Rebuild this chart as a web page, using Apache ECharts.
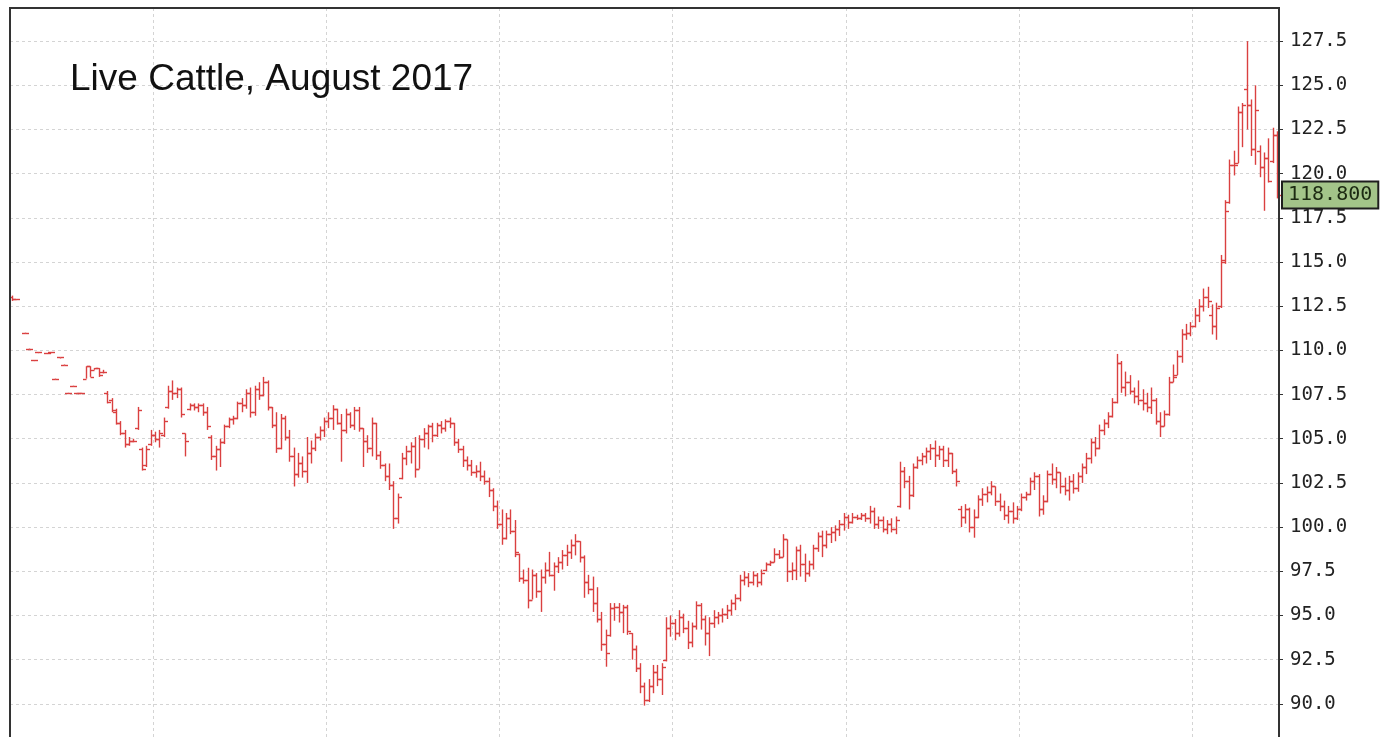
<!DOCTYPE html>
<html>
<head>
<meta charset="utf-8">
<script src="https://cdn.jsdelivr.net/npm/echarts@6/dist/echarts.min.js"></script>
<style>
html,body{margin:0;padding:0;background:#fff;}
#chart{width:1383px;height:737px;}
</style>
</head>
<body>
<div id="chart"></div>
<script>
const titleText = 'Live Cattle, August 2017';
const lastPrice = 118.8;
const lastPriceLabel = '118.800';
const yMin = 87.5, yMax = 129.375, yStep = 2.5;
// category indices where vertical grid lines fall
const xGridIndices = [33, 73, 113, 153, 193, 233, 273];
// [open, high, low, close] per trading day; null = no trade
const ohlc = [
[113.0,113.1,112.8,112.9],[112.9,112.9,112.9,112.9],null,[111.0,111.0,111.0,111.0],
[110.1,110.1,110.1,110.1],[109.45,109.45,109.45,109.45],[109.9,109.9,109.9,109.9],null,
[109.85,109.85,109.85,109.85],[109.9,109.9,109.9,109.9],[108.4,108.4,108.4,108.4],[109.6,109.6,109.6,109.6],
[109.2,109.2,109.2,109.2],[107.6,107.6,107.6,107.6],[108.0,108.0,108.0,108.0],[107.6,107.6,107.6,107.6],
[107.6,107.6,107.6,107.6],[108.4,109.1,108.4,109.1],[109.1,109.1,108.5,108.5],[108.9,109.0,108.9,109.0],
[109.0,109.0,108.5,108.6],[108.8,108.9,108.7,108.8],
[107.6,107.7,107.0,107.1],[107.2,107.3,106.5,106.6],[106.5,106.7,105.8,105.9],[105.9,106.0,105.2,105.3],
[105.3,105.5,104.5,104.7],[104.7,105.1,104.6,104.9],[104.9,105.0,104.8,104.9],[105.6,106.8,105.5,106.6],
[104.4,104.5,103.2,103.3],[103.5,104.6,103.4,104.4],[104.7,105.5,104.6,105.2],[105.2,105.4,104.8,105.0],
[105.0,105.5,104.5,105.3],[105.2,106.2,105.1,106.0],[106.8,108.0,106.7,107.7],[107.7,108.3,107.2,107.6],
[107.6,107.9,107.3,107.8],[107.8,107.9,106.2,106.4],[105.3,105.3,104.0,104.9],[106.7,107.0,106.6,106.9],
[106.9,107.0,106.6,106.8],[106.8,107.0,106.5,106.9],[106.9,107.0,106.3,106.5],[106.5,106.8,105.5,105.7],
[105.1,105.2,103.8,104.0],[104.0,104.6,103.2,104.4],[104.4,105.0,103.4,104.8],[104.8,105.8,104.7,105.7],
[105.7,106.2,105.6,106.1],[106.1,106.3,105.8,106.2],[106.2,107.1,106.1,107.0],[107.0,107.3,106.5,106.9],
[106.9,107.8,106.7,107.6],[107.6,107.9,106.2,106.5],[106.5,108.0,106.3,107.8],[107.8,108.2,107.2,107.5],
[107.5,108.5,107.4,108.2],[108.2,108.3,106.6,106.8],[106.8,106.8,105.6,105.8],[105.8,106.5,104.2,104.5],
[104.5,106.4,104.4,106.2],[106.2,106.3,104.9,105.1],[105.1,105.5,103.7,104.0],[104.0,104.5,102.3,103.0],
[103.0,104.2,102.8,103.6],[103.6,104.0,102.8,103.2],[103.2,105.1,102.5,104.2],[104.2,104.9,103.6,104.5],
[104.5,105.3,104.3,105.1],[105.1,105.7,104.9,105.5],[105.5,106.2,105.1,106.0],[106.0,106.5,105.6,106.2],
[106.2,106.9,105.5,106.7],[106.7,106.7,105.8,105.9],[105.9,106.4,103.7,105.5],[105.5,106.7,105.3,106.4],
[106.4,106.5,105.6,105.8],[105.8,106.8,105.5,106.6],[106.6,106.8,105.4,105.6],[105.6,105.6,103.4,104.9],
[104.9,105.2,104.2,104.5],[104.5,106.2,104.0,105.9],[105.9,105.9,103.8,104.1],[104.1,104.3,103.3,103.5],
[103.5,103.6,102.6,102.9],[102.9,103.6,102.1,102.4],[102.4,102.6,99.9,100.5],[100.5,101.9,100.2,101.7],
[102.8,104.2,102.7,103.9],[103.9,104.6,103.5,104.3],[104.3,104.8,103.6,104.6],[104.6,105.1,102.8,103.3],
[103.3,105.2,103.3,105.0],[105.0,105.6,104.5,105.3],[105.3,105.8,104.4,105.7],[105.7,105.9,104.8,105.2],
[105.2,105.9,105.1,105.8],[105.8,106.0,105.3,105.6],[105.6,106.1,105.4,106.0],[106.0,106.2,105.6,105.9],
[105.9,105.9,104.6,104.8],[104.8,105.0,104.2,104.4],[104.4,104.6,103.4,103.8],[103.8,104.0,103.2,103.5],
[103.5,103.8,102.9,103.1],[103.1,103.5,102.8,103.2],[103.2,103.7,102.6,102.9],[102.9,103.2,102.4,102.6],
[102.6,102.8,101.7,102.1],[102.1,102.2,100.9,101.2],[101.2,101.5,99.9,100.2],[100.2,101.0,99.0,99.4],
[99.4,100.8,99.3,100.5],[100.5,101.0,99.6,99.8],[99.8,100.4,98.3,98.6],[98.5,98.5,96.9,97.1],
[97.1,97.6,96.8,97.0],[97.0,97.7,95.4,95.9],[95.9,97.6,95.9,97.3],[97.3,97.4,96.0,96.4],
[96.4,97.6,95.2,97.2],[97.2,98.0,96.8,97.6],[97.6,98.6,97.2,97.3],[97.3,98.0,96.4,97.8],
[97.8,98.3,97.4,98.0],[98.0,98.7,97.6,98.4],[98.4,99.0,97.8,98.6],[98.6,99.3,98.2,99.0],
[99.0,99.6,98.4,99.2],[99.2,99.2,98.0,98.3],[98.3,98.4,96.0,96.9],[96.9,97.3,96.2,96.5],
[96.5,97.2,95.2,95.7],[95.7,96.6,94.6,94.8],[94.8,95.2,93.0,93.4],[93.4,94.2,92.1,92.9],
[93.9,95.7,93.8,95.4],[95.4,95.7,94.7,95.5],[95.5,95.7,94.6,95.2],[95.2,95.6,94.0,95.5],
[95.5,95.6,93.9,94.1],[94.0,94.0,92.5,93.1],[93.1,93.3,91.8,92.0],[92.0,92.3,90.6,91.0],
[91.0,91.2,89.9,90.2],[90.2,91.4,90.1,91.0],[91.0,92.2,90.6,91.8],[91.8,92.2,91.0,91.4],
[91.4,92.3,90.5,92.1],[92.5,94.9,92.4,94.3],[94.3,95.0,93.8,94.6],[94.6,94.8,93.6,94.0],
[94.0,95.3,93.8,94.9],[94.9,95.1,94.0,94.3],[94.3,94.7,93.1,93.5],[93.5,94.6,93.2,94.4],
[94.4,95.8,94.2,95.6],[95.6,95.7,94.2,94.8],[94.8,95.0,93.3,94.0],[94.0,94.9,92.7,94.6],
[94.6,95.3,94.3,94.9],[94.9,95.2,94.5,95.0],[95.0,95.4,94.6,95.1],[95.1,95.6,94.8,95.3],
[95.3,95.9,95.0,95.7],[95.7,96.2,95.3,96.0],[96.0,97.3,95.8,97.0],[97.0,97.5,96.7,97.2],
[97.2,97.4,96.6,96.9],[96.9,97.5,96.7,97.3],[97.3,97.4,96.6,96.9],[96.9,97.6,96.7,97.4],
[97.6,98.0,97.5,97.9],[97.9,98.1,97.8,98.0],[98.0,98.8,98.0,98.5],[98.5,98.7,98.2,98.3],
[98.3,99.6,98.3,99.3],[99.3,99.3,96.9,97.5],[97.5,98.0,97.0,97.6],[97.6,98.9,97.0,98.7],
[98.7,99.0,97.2,97.9],[97.9,98.5,96.9,97.4],[97.4,98.1,97.2,97.9],[97.9,99.0,97.6,98.8],
[98.8,99.7,98.6,99.5],[99.5,99.8,98.3,99.0],[99.0,99.8,98.8,99.6],[99.6,100.0,99.1,99.7],
[99.7,100.1,99.2,99.9],[99.9,100.4,99.5,100.2],[100.2,100.8,99.8,100.6],[100.6,100.7,99.9,100.3],
[100.3,100.8,100.2,100.6],[100.6,100.7,100.4,100.5],[100.5,100.8,100.4,100.7],[100.7,100.8,100.3,100.5],
[100.5,101.2,100.2,100.9],[100.9,101.1,99.9,100.2],[100.2,100.6,99.9,100.4],[100.4,100.6,99.7,99.9],
[99.9,100.4,99.6,100.2],[100.2,100.5,99.7,99.9],[99.9,100.6,99.6,100.4],[101.2,103.7,101.1,103.2],
[103.2,103.4,102.2,102.6],[102.6,102.9,101.0,101.8],[101.8,103.6,101.7,103.4],[103.4,104.0,103.3,103.8],
[103.8,104.2,103.5,104.0],[104.0,104.5,103.6,104.3],[104.3,104.7,103.8,104.5],[104.5,104.9,103.4,104.1],
[104.1,104.6,103.8,104.4],[104.4,104.6,103.4,103.8],[103.8,104.5,103.4,104.2],[104.2,104.2,103.0,103.2],
[103.2,103.3,102.3,102.6],[101.0,101.2,100.0,100.6],[100.6,101.3,100.2,101.0],[101.0,101.1,99.7,100.0],
[100.0,101.0,99.4,100.6],[100.6,101.8,100.5,101.6],[101.6,102.2,101.2,101.9],[101.9,102.3,101.4,102.0],
[102.0,102.6,101.8,102.3],[102.3,102.3,101.2,101.5],[101.5,101.9,100.9,101.2],[101.2,101.5,100.4,100.7],
[100.7,101.2,100.2,100.9],[100.9,101.4,100.2,100.5],[100.5,101.2,100.4,101.0],[101.0,101.9,100.9,101.7],
[101.7,102.0,101.5,101.9],[101.9,102.8,101.8,102.6],[102.6,103.1,102.1,102.9],[102.9,103.0,100.6,101.0],
[101.0,101.8,100.7,101.5],[101.5,103.2,101.4,103.0],[103.0,103.6,102.4,102.7],[102.7,103.4,102.2,103.1],
[103.1,103.1,101.9,102.3],[102.3,102.8,101.8,102.1],[102.1,102.9,101.5,102.6],[102.6,103.0,101.9,102.2],
[102.2,103.1,102.0,102.9],[102.9,103.6,102.5,103.4],[103.4,104.2,103.0,103.9],[103.9,105.0,103.6,104.8],
[104.8,105.1,104.0,104.5],[104.5,105.8,104.4,105.5],[105.5,106.1,105.2,105.9],[105.9,106.5,105.6,106.3],
[106.3,107.3,106.2,107.1],[107.1,109.8,107.0,109.3],[109.3,109.4,107.6,107.9],[107.9,108.8,107.4,108.2],
[108.2,108.6,107.5,107.7],[107.7,107.9,107.0,107.4],[107.4,108.3,106.9,107.2],[107.2,107.8,106.6,107.0],
[107.0,107.6,106.5,106.8],[106.8,107.9,106.4,107.2],[107.2,107.3,105.8,106.0],[106.0,106.5,105.1,105.7],
[105.7,106.6,105.7,106.4],[106.4,108.5,106.3,108.2],[108.2,109.2,108.2,108.5],[108.6,110.0,108.6,109.7],
[109.7,111.2,109.3,110.9],[110.9,111.5,110.6,111.0],[111.0,111.6,110.8,111.4],[111.4,112.4,111.3,112.0],
[112.0,112.9,111.6,112.5],[112.5,113.5,112.2,113.0],[113.0,113.6,112.4,112.8],[112.0,112.6,110.9,111.4],
[111.4,112.7,110.6,112.4],[112.5,115.4,112.4,115.1],[115.0,118.5,114.9,117.9],[118.4,120.8,118.3,120.5],
[120.5,121.3,119.9,120.5],[120.6,123.8,120.6,123.5],[123.5,124.0,121.5,123.9],[124.8,127.5,122.5,123.9],
[123.9,124.2,121.0,121.4],[121.4,125.0,120.5,123.6],[121.3,121.6,119.8,120.4],[120.4,121.2,117.9,120.9],
[120.9,122.0,119.5,119.6],[120.7,122.6,120.6,122.2],[122.2,122.4,118.6,118.8]
];
const categories = ohlc.map((d, i) => 'Day ' + (i + 1));

const barColor = '#da4040';
const seriesData = ohlc.map((d, i) => d ? [i, d[0], d[1], d[2], d[3]] : [i, '-', '-', '-', '-']);

const chart = echarts.init(document.getElementById('chart'), null, {renderer: 'canvas'});
chart.setOption({
  animation: false,
  backgroundColor: '#ffffff',
  title: {
    text: titleText, left: 70, top: 61, padding: 0,
    textStyle: {fontFamily: 'Liberation Sans', fontSize: 37, fontWeight: 'normal', color: '#111'}
  },
  grid: {
    left: 10, right: 104, top: 8, bottom: -11,
    show: true, borderColor: '#333', borderWidth: 2, backgroundColor: 'transparent',
    containLabel: false, outerBoundsMode: 'none', z: 5
  },
  xAxis: {
    type: 'category', data: categories, boundaryGap: true,
    axisLine: {show: false}, axisTick: {show: false}, axisLabel: {show: false},
    splitLine: {
      show: true,
      interval: function (idx) { return xGridIndices.indexOf(idx) >= 0; },
      lineStyle: {color: '#d4d4d4', type: [3, 3], width: 1}
    }
  },
  yAxis: {
    type: 'value', position: 'right', min: yMin, max: yMax, interval: yStep, scale: true,
    axisLine: {show: true, lineStyle: {color: '#333', width: 2}},
    axisTick: {show: true, length: 4, lineStyle: {color: '#333', width: 1}},
    axisLabel: {
      show: true, margin: 11, showMaxLabel: false, showMinLabel: false,
      fontFamily: 'DejaVu Sans Mono', fontSize: 19, color: '#222',
      formatter: function (v) { return v.toFixed(1); }
    },
    splitLine: {show: true, showMaxLine: false, showMinLine: false,
      lineStyle: {color: '#d4d4d4', type: [3, 3], width: 1}}
  },
  series: [{
    type: 'custom',
    name: 'Live Cattle',
    data: seriesData,
    encode: {x: 0, y: [1, 2, 3, 4]},
    clip: false,
    z: 3,
    renderItem: function (params, api) {
      const o = api.value(1), h = api.value(2), l = api.value(3), c = api.value(4);
      if (isNaN(o) || isNaN(h)) return null;
      const idx = api.value(0);
      const po = api.coord([idx, o]);
      const ph = api.coord([idx, h]);
      const pl = api.coord([idx, l]);
      const pc = api.coord([idx, c]);
      const x = Math.round(po[0]) + 0.5;
      const t = 3.5;
      const st = {stroke: barColor, lineWidth: 1.4};
      let y1 = ph[1], y2 = pl[1];
      if (Math.abs(y2 - y1) < 1) { y2 = y1 + 1; }
      const yo = Math.round(po[1]) + 0.5, yc = Math.round(pc[1]) + 0.5;
      return {
        type: 'group',
        children: [
          {type: 'line', shape: {x1: x, y1: y1, x2: x, y2: y2}, style: st},
          {type: 'line', shape: {x1: x - t, y1: yo, x2: x, y2: yo}, style: st},
          {type: 'line', shape: {x1: x, y1: yc, x2: x + t, y2: yc}, style: st}
        ]
      };
    }
  }]
});

// last-price tag placed through the axis scales
const n = categories.length;
const xLast = chart.convertToPixel({xAxisIndex: 0}, n - 1);
const xPrev = chart.convertToPixel({xAxisIndex: 0}, n - 2);
const xAxisEnd = xLast + (xLast - xPrev) / 2;
const yTag = chart.convertToPixel({yAxisIndex: 0}, lastPrice);
chart.setOption({
  graphic: [{
    type: 'text', x: xAxisEnd + 4, y: yTag, z: 100,
    style: {
      text: lastPriceLabel, font: '20px "DejaVu Sans Mono"', fill: '#1c2a12',
      align: 'left', verticalAlign: 'middle',
      backgroundColor: '#a3c489', borderColor: '#1e1e1e', borderWidth: 2,
      padding: [3, 5, 2, 5]
    }
  }]
});
</script>
</body>
</html>
